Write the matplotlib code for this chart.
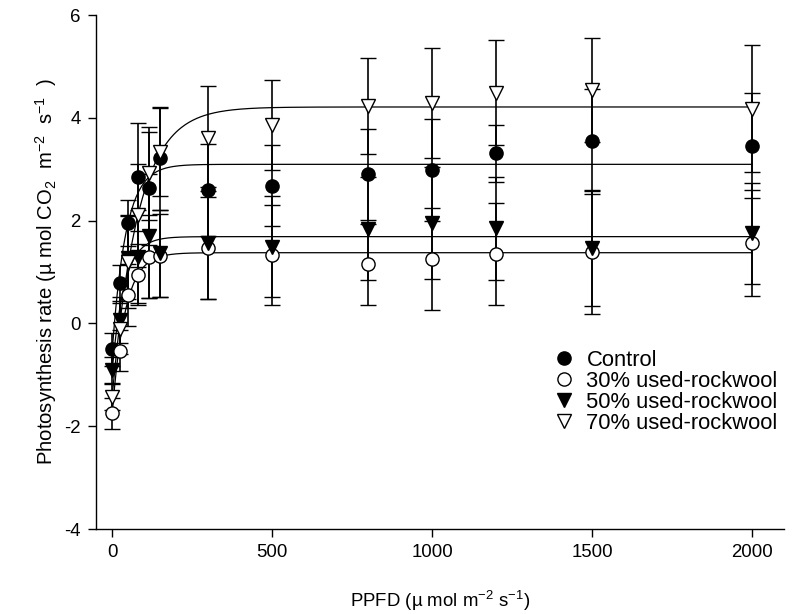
import numpy as np
import matplotlib
matplotlib.use('Agg')
import matplotlib.pyplot as plt

plt.rcParams['font.family'] = ['Liberation Sans', 'DejaVu Sans']
plt.rcParams['mathtext.fontset'] = 'custom'
plt.rcParams['mathtext.rm'] = 'Liberation Sans'
plt.rcParams['mathtext.it'] = 'Liberation Sans'
plt.rcParams['axes.unicode_minus'] = False

# light response data
ppfd = [0, 25, 50, 80, 115, 150, 300, 500, 800, 1000, 1200, 1500, 2000]
control = [-0.50, 0.78, 1.95, 2.85, 2.63, 3.21, 2.60, 2.68, 2.90, 2.98, 3.31, 3.54, 3.46]
control_err = [0.32, 0.35, 0.45, 1.05, 1.10, 1.00, 0.89, 0.79, 0.88, 0.99, 0.55, 1.03, 1.03]
rw30 = [-1.75, -0.53, 0.55, 0.95, 1.30, 1.32, 1.47, 1.33, 1.15, 1.25, 1.35, 1.38, 1.57]
rw30_err = [0.30, 0.40, 0.60, 0.60, 0.80, 0.80, 0.99, 0.98, 0.79, 0.99, 0.99, 1.20, 1.03]
rw50 = [-0.91, 0.07, 1.28, 1.30, 1.70, 1.36, 1.57, 1.49, 1.84, 1.95, 1.85, 1.47, 1.75]
rw50_err = [0.25, 0.45, 0.80, 0.90, 1.20, 0.85, 1.09, 0.98, 1.00, 1.09, 1.00, 1.13, 0.98]
rw70 = [-1.43, -0.10, 1.20, 2.10, 2.92, 3.34, 3.60, 3.86, 4.23, 4.29, 4.49, 4.54, 4.18]
rw70_err = [0.25, 0.50, 0.90, 1.00, 0.90, 0.86, 1.02, 0.87, 0.93, 1.07, 1.02, 1.02, 1.24]

labels = ['Control', '30% used-rockwool', '50% used-rockwool', '70% used-rockwool']


def fit_exp(x, y):
    # y = y0 + a*(1-exp(-k x)), grid search on k, least squares for y0, a
    x = np.asarray(x, float)
    y = np.asarray(y, float)
    best = None
    for k in np.logspace(-3.5, -0.5, 600):
        A = np.column_stack([np.ones_like(x), 1 - np.exp(-k * x)])
        coef = np.linalg.lstsq(A, y, rcond=None)[0]
        sse = np.sum((A @ coef - y) ** 2)
        if best is None or sse < best[0]:
            best = (sse, coef[0], coef[1], k)
    return best[1:]


fig = plt.figure(figsize=(8.05, 6.14), dpi=100)
ax = fig.add_axes([96 / 805, 85 / 614, 688 / 805, 514 / 614])

series = [
    (control, control_err, 'o', 'black'),
    (rw30, rw30_err, 'o', 'white'),
    (rw50, rw50_err, 'v', 'black'),
    (rw70, rw70_err, 'v', 'white'),
]

xs = np.linspace(0, 2000, 500)
for (vals, err, mk, fc), lab in zip(series, labels):
    y0, a, k = fit_exp(ppfd, vals)
    ax.plot(xs, y0 + a * (1 - np.exp(-k * xs)), color='black', lw=0.9, zorder=2)
    ax.errorbar(ppfd, vals, yerr=err, fmt=mk, ms=9.5 if mk == 'o' else 10,
                mfc=fc, mec='black', mew=1.0, color='black', ecolor='black',
                elinewidth=1.2, capsize=5.5, capthick=1.0, zorder=3, label=lab)

ax.set_xlim(-50, 2100)
ax.set_ylim(-4, 6)
ax.set_xticks([0, 500, 1000, 1500, 2000])
ax.set_yticks([-4, -2, 0, 2, 4, 6])
ax.spines['top'].set_visible(False)
ax.spines['right'].set_visible(False)
for s in ['left', 'bottom']:
    ax.spines[s].set_linewidth(1.0)
ax.tick_params(direction='out', length=6, width=1.0, labelsize=13.4, pad=5)

ax.set_xlabel(r'PPFD (µ mol m$^{-2}$ s$^{-1}$)', fontsize=13.4, labelpad=20)
ax.set_ylabel(r'Photosynthesis rate (µ mol CO$_2$  m$^{-2}$  s$^{-1}$  )', fontsize=14.6, labelpad=4)

leg_handles = [plt.Line2D([], [], ls='none', marker=mk, ms=9.5 if mk == 'o' else 10,
                          mfc=fc, mec='black', mew=1.0) for (_, _, mk, fc) in series]
ax.legend(leg_handles, labels, loc='upper left', bbox_to_anchor=(0.649, 0.37),
          frameon=False, fontsize=15.8, handlelength=1.0, handletextpad=0.5,
          labelspacing=0.0, borderpad=0)

fig.savefig('out.png', dpi=100)
